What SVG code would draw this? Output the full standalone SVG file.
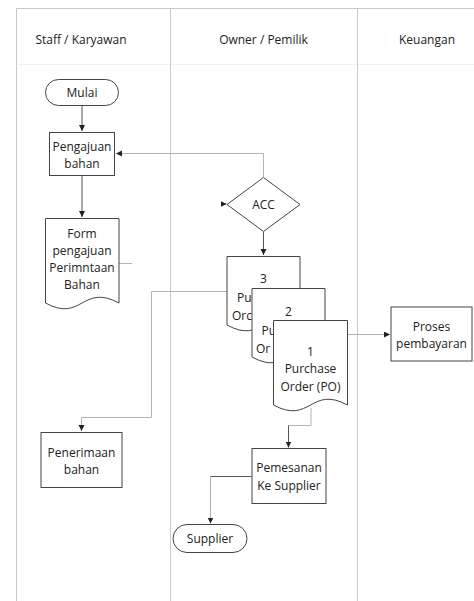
<svg xmlns="http://www.w3.org/2000/svg" width="474" height="601" viewBox="0 0 474 601">
<defs>
<marker id="arr" markerUnits="userSpaceOnUse" markerWidth="7" markerHeight="7" refX="6" refY="3" orient="auto">
<path d="M0,0 L6,3 L0,6 z" fill="#222"/>
</marker>
<style>
text{font-family:"Open Sans","Liberation Sans",sans-serif;font-size:12px;fill:#222;text-anchor:middle;dominant-baseline:central}
text.s{text-anchor:start}
.shape{fill:#fff;stroke:#444;stroke-width:1}
.lane{stroke:#c8c8c8;stroke-width:1;fill:none}
.c{fill:none;stroke:#b4b4b4;stroke-width:1}
.cd{fill:none;stroke:#555;stroke-width:1}
</style>
</defs>
<rect width="474" height="601" fill="#fff"/>
<g id="swimlanes">
<path class="lane" d="M16.5,601 V8.5 H474 M170.5,8.5 V601 M357.5,8.5 V601"/>
<path d="M16.5,64.5 H474" stroke="#e2e2e2" stroke-width="1" stroke-dasharray="1,1"/>
<text x="81" y="39">Staff / Karyawan</text>
<text x="263.5" y="39">Owner / Pemilik</text>
<text x="427" y="39">Keuangan</text>
</g>
<g id="connectors">
<path class="cd" d="M82,106 V131" marker-end="url(#arr)"/>
<path class="cd" d="M82,175 V217" marker-end="url(#arr)"/>
<path class="c" d="M263.5,177 V153.5 H116" marker-end="url(#arr)"/>
<path class="c" d="M119,263.5 H132"/>
<path class="cd" d="M221,204 H226.5" marker-end="url(#arr)"/>
<path class="cd" d="M263.5,232 V255" marker-end="url(#arr)"/>
<path class="c" d="M227,291.5 H151.5 V417.5 H81.5 V431" marker-end="url(#arr)"/>
<path class="c" d="M347.5,334.5 H390" marker-end="url(#arr)"/>
<path class="c" d="M311,408 V425.5 H288.5"/>
<path class="cd" d="M288.5,425.5 V447.5" marker-end="url(#arr)"/>
<path class="cd" d="M251.5,476.5 H210.5"/>
<path class="c" d="M210.5,476.5 V523.5" marker-end="url(#arr)"/>
</g>
<g id="mulai">
<rect class="shape" x="45.5" y="79.5" width="73" height="26" rx="13"/>
<text x="82" y="92.5">Mulai</text>
</g>
<g id="pengajuan">
<rect class="shape" x="49.5" y="132.5" width="65" height="43"/>
<text x="82" y="146">Pengajuan</text>
<text x="82" y="163">bahan</text>
</g>
<g id="form">
<path class="shape" d="M45.5,218.5 H119 V303 C82,283 82,323 45.5,303 Z"/>
<text x="82" y="233">Form</text>
<text x="82" y="250">pengajuan</text>
<text x="82" y="267">Perimntaan</text>
<text x="82" y="284">Bahan</text>
</g>
<g id="acc">
<path class="shape" d="M263.5,177.5 L300,204.5 L263.5,231.5 L227,204.5 Z"/>
<text x="263.5" y="204.5">ACC</text>
</g>
<g id="po3">
<path class="shape" d="M227,256.5 H300 V325 C263.5,305 263.5,345 227,325 Z"/>
<text x="263.5" y="278">3</text>
<text class="s" x="237" y="297">Pu</text>
<text class="s" x="232" y="315">Orc</text>
</g>
<g id="po2">
<path class="shape" d="M252,288.5 H325 V357 C288.5,337 288.5,377 252,357 Z"/>
<text x="288.5" y="311">2</text>
<text class="s" x="261.5" y="330">Pu</text>
<text class="s" x="256" y="348">Or</text>
</g>
<g id="po1">
<path class="shape" d="M273.5,320.5 H347.5 V405 C310.5,385 310.5,425 273.5,405 Z"/>
<text x="310.5" y="351.5">1</text>
<text x="310.5" y="368.5">Purchase</text>
<text x="310.5" y="386.5">Order (PO)</text>
</g>
<g id="proses">
<rect class="shape" x="391" y="307" width="81" height="54"/>
<text x="431.5" y="326.5">Proses</text>
<text x="431.5" y="343.5">pembayaran</text>
</g>
<g id="penerimaan">
<rect class="shape" x="41" y="432.5" width="81" height="55"/>
<text x="81.5" y="452">Penerimaan</text>
<text x="81.5" y="469">bahan</text>
</g>
<g id="pemesanan">
<rect class="shape" x="252" y="448.5" width="74" height="55"/>
<text x="289" y="467">Pemesanan</text>
<text x="289" y="485">Ke Supplier</text>
</g>
<g id="supplier">
<rect class="shape" x="173" y="524.5" width="74" height="28" rx="14"/>
<text x="210" y="538.5">Supplier</text>
</g>
</svg>
